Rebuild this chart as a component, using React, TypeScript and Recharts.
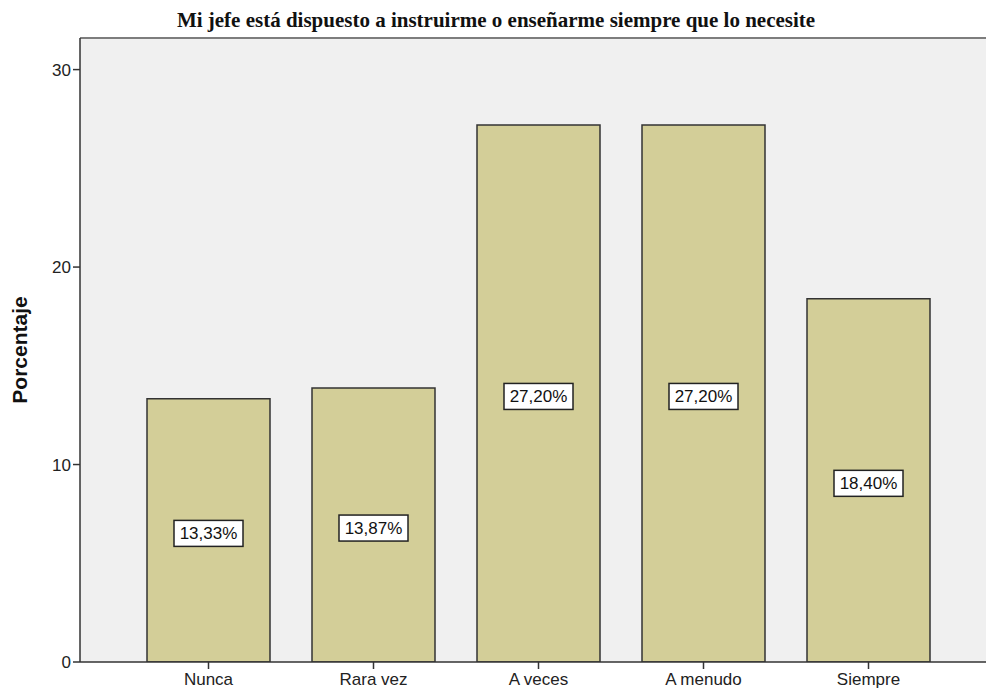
import React from "react";
import {
  BarChart,
  Bar,
  XAxis,
  YAxis,
  CartesianGrid,
  LabelList,
  ReferenceLine,
} from "recharts";

// Response categories and their percentages
const categories = ["Nunca", "Rara vez", "A veces", "A menudo", "Siempre"];
const percentages = [13.33, 13.87, 27.2, 27.2, 18.4];
const yTicks = [0, 10, 20, 30];

const TITLE = "Mi jefe está dispuesto a instruirme o enseñarme siempre que lo necesite";
const Y_MAX = 31.6;

const data = categories.map((name, i) => ({ name, value: percentages[i] }));

const fmt = (v: number) => v.toFixed(2).replace(".", ",") + "%";

const ValueBox = (props: any) => {
  const { x, y, width, height, value } = props;
  const cx = Number(x) + Number(width) / 2;
  const cy = Number(y) + Number(height) / 2 + 3;
  const w = 69;
  const h = 26;
  return (
    <g>
      <rect
        x={cx - w / 2}
        y={cy - h / 2}
        width={w}
        height={h}
        fill="#ffffff"
        stroke="#222"
        strokeWidth={1.5}
      />
      <text
        x={cx}
        y={cy + 1}
        textAnchor="middle"
        dominantBaseline="middle"
        fontFamily="Arial, 'Liberation Sans', sans-serif"
        fontSize={17}
        fill="#111"
      >
        {fmt(Number(value))}
      </text>
    </g>
  );
};

const YLabel = (props: any) => {
  const vb = props.viewBox || {};
  const x = (vb.x ?? 0) + 21;
  const y = (vb.y ?? 0) + (vb.height ?? 0) / 2;
  return (
    <text
      x={x}
      y={y}
      transform={`rotate(-90, ${x}, ${y})`}
      textAnchor="middle"
      dominantBaseline="middle"
      fontFamily="Arial, 'Liberation Sans', sans-serif"
      fontWeight="bold"
      fontSize={21}
      fill="#111"
    >
      Porcentaje
    </text>
  );
};

export default function App() {
  return (
    <div
      style={{
        position: "absolute",
        left: 0,
        top: 0,
        width: 986,
        height: 691,
        background: "#ffffff",
      }}
    >
      <div
        style={{
          position: "absolute",
          left: 0,
          top: 8,
          width: 992,
          textAlign: "center",
          fontFamily: "'Liberation Serif', 'Times New Roman', serif",
          fontWeight: "bold",
          fontSize: 21,
          color: "#111",
          lineHeight: "24px",
          whiteSpace: "nowrap",
        }}
      >
        {TITLE}
      </div>
      <BarChart
        width={986}
        height={691}
        data={data}
        margin={{ top: 38, right: 0, bottom: 0, left: 0 }}
        barSize={123}
        style={{ position: "absolute", left: 0, top: 0 }}
      >
        <CartesianGrid
          fill="#f0f0f0"
          horizontal={false}
          vertical={false}
          stroke="none"
        />
        <ReferenceLine y={Y_MAX} stroke="#7d7d7d" strokeWidth={2} />
        <XAxis
          dataKey="name"
          height={29}
          padding={{ left: 46, right: 35 }}
          axisLine={{ stroke: "#333", strokeWidth: 1.5 }}
          tickLine={{ stroke: "#333", strokeWidth: 1.5 }}
          tickSize={7}
          tick={{
            fill: "#222",
            fontSize: 17,
            fontFamily: "Arial, 'Liberation Sans', sans-serif",
          }}
          tickMargin={4}
          interval={0}
        />
        <YAxis
          width={80}
          domain={[0, Y_MAX]}
          ticks={yTicks}
          allowDataOverflow
          axisLine={{ stroke: "#333", strokeWidth: 1.5 }}
          tickLine={{ stroke: "#333", strokeWidth: 1.5 }}
          tickSize={7}
          tickMargin={2}
          tick={{
            fill: "#222",
            fontSize: 17,
            fontFamily: "Arial, 'Liberation Sans', sans-serif",
          }}
          label={<YLabel />}
        />
        <Bar
          dataKey="value"
          fill="#d3ce98"
          stroke="#333"
          strokeWidth={1.5}
          isAnimationActive={false}
        >
          <LabelList dataKey="value" content={<ValueBox />} />
        </Bar>
      </BarChart>
    </div>
  );
}
